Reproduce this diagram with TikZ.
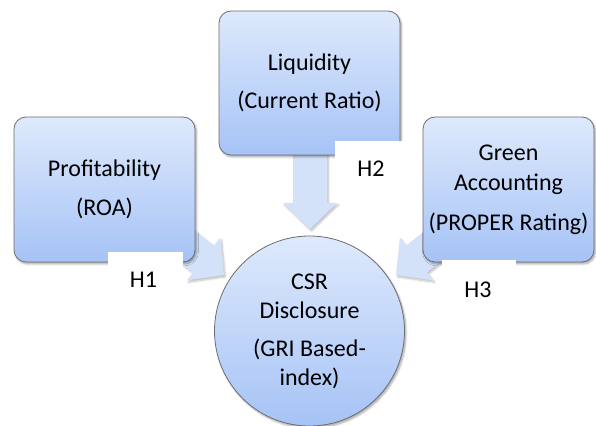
\documentclass[tikz,border=0pt]{standalone}
\usepackage{fontspec}
\setmainfont{Carlito}
\usetikzlibrary{shadows.blur}
\definecolor{boxtop}{RGB}{222,233,252}
\definecolor{boxbot}{RGB}{166,195,246}
\definecolor{arrowfill}{RGB}{212,226,249}
\definecolor{edgegray}{RGB}{110,110,110}
\tikzset{
  x=1pt,y=1pt,
  varbox/.style={draw=edgegray, line width=0.8pt, rounded corners=12pt,
    top color=boxtop, bottom color=boxbot, inner sep=0pt, align=center,
    blur shadow={shadow xshift=1.5pt, shadow yshift=-2pt, shadow opacity=35, shadow blur steps=6}},
  outcircle/.style={circle, draw=edgegray, line width=0.8pt,
    top color=boxtop, bottom color=boxbot, inner sep=0pt, align=center,
    minimum size=190pt,
    blur shadow={shadow xshift=1.5pt, shadow yshift=-2pt, shadow opacity=35, shadow blur steps=6}},
  bigarrow/.style={fill=arrowfill, draw=none,
    blur shadow={shadow xshift=1.5pt, shadow yshift=-2pt, shadow opacity=25, shadow blur steps=6}},
  hlabel/.style={fill=white, draw=none, inner sep=0pt},
  htext/.style={font=\fontsize{24}{29}\selectfont, inner sep=0pt}
}
\begin{document}
\begin{tikzpicture}
\useasboundingbox (0,0) rectangle (596,425);
% arrows (behind the shapes)
\coordinate (tipL) at (224,150);
\coordinate (tipT) at (310,196);
\coordinate (tipR) at (396,150);
\path[bigarrow, shift={(tipL)}, rotate=-38]
  (-80,17) -- (-26,17) -- (-26,27) -- (0,0) -- (-26,-27) -- (-26,-17) -- (-80,-17) -- cycle;
\path[bigarrow, shift={(tipR)}, rotate=-142]
  (-80,17) -- (-26,17) -- (-26,27) -- (0,0) -- (-26,-27) -- (-26,-17) -- (-80,-17) -- cycle;
\path[bigarrow, shift={(tipT)}, rotate=-90]
  (-80,17) -- (-26,17) -- (-26,27) -- (0,0) -- (-26,-27) -- (-26,-17) -- (-80,-17) -- cycle;
% boxes
\node[varbox, minimum width=181pt, minimum height=145pt,
  font=\fontsize{24}{29}\selectfont] (prof) at (104.5,235.5)
  {Profitability\\[10pt](ROA)};
\node[varbox, minimum width=181pt, minimum height=144pt,
  font=\fontsize{24}{29}\selectfont] (liq) at (309.5,342)
  {Liquidity\\[9pt](Current Ratio)};
\node[varbox, minimum width=171pt, minimum height=145pt,
  font=\fontsize{24}{30}\selectfont] (green) at (508.5,235.5)
  {Green\\Accounting\\[10pt](PROPER Rating)};
\node[outcircle, font=\fontsize{24}{29}\selectfont] (csr) at (309.5,94)
  {CSR\\Disclosure\\[9pt](GRI Based-\\index)};
% hypothesis labels
\path[hlabel] (108,173) rectangle (183,120);
\path[hlabel] (335,284) rectangle (415,230);
\path[hlabel] (442,165) rectangle (516,115);
\node[htext] (h1) at (143.5,145) {H1};
\node[htext] (h2) at (371,256.5) {H2};
\node[htext] (h3) at (478,135) {H3};
\end{tikzpicture}
\end{document}
